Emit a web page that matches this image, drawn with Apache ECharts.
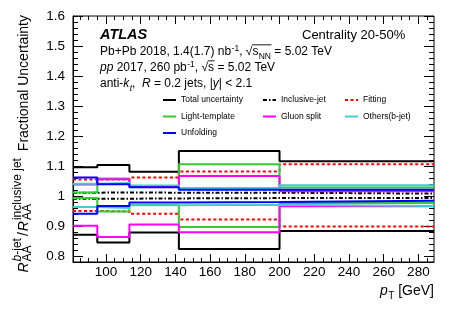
<!DOCTYPE html>
<html><head><meta charset="utf-8">
<script src="https://cdn.jsdelivr.net/npm/echarts@6/dist/echarts.min.js"></script>
<style>html,body{margin:0;padding:0;background:#fff}#c{width:457px;height:311px}</style>
</head><body><div id="c"></div>
<script>
// ---------------- data ----------------
const binEdges = [81, 95, 113.5, 142, 200, 289];
const totalUp = [1.096, 1.103, 1.081, 1.150, 1.116];
const totalDown = [0.871, 0.845, 0.878, 0.823, 0.883];
const inclusiveUp = [1.011, 1.012, 1.011, 1.011, 1.008];
const inclusiveDown = [0.991, 0.991, 0.992, 0.993, 0.993];
const fittingUp = [1.055, 1.055, 1.062, 1.082, 1.106];
const fittingDown = [0.950, 0.949, 0.941, 0.922, 0.898];
const lightUp = [1.012, 1.058, 1.032, 1.106, 1.028];
const lightDown = [0.993, 0.948, 0.970, 0.897, 0.977];
const gluonUp = [1.038, 1.056, 1.033, 1.067, 1.016];
const gluonDown = [0.901, 0.863, 0.905, 0.879, 0.966];
const othersUp = [1.041, 1.043, 1.035, 1.027, 1.036];
const othersDown = [0.963, 0.960, 0.969, 0.971, 0.967];
const unfoldUp = [1.062, 1.039, 1.029, 1.021, 1.021];
const unfoldDown = [0.941, 0.967, 0.978, 0.980, 0.984];

const xTickLabels = [100, 120, 140, 160, 180, 200, 220, 240, 260, 280];
const xMinorTicks = [85, 90, 95, 105, 110, 115, 125, 130, 135, 145, 150, 155, 165, 170, 175,
  185, 190, 195, 205, 210, 215, 225, 230, 235, 245, 250, 255, 265, 270, 275, 285];
const yTickLabels = [0.8, 0.9, 1, 1.1, 1.2, 1.3, 1.4, 1.5, 1.6];
const yMinorTicks = [0.78, 0.82, 0.84, 0.86, 0.88, 0.92, 0.94, 0.96, 0.98, 1.02, 1.04, 1.06, 1.08,
  1.12, 1.14, 1.16, 1.18, 1.22, 1.24, 1.26, 1.28, 1.32, 1.34, 1.36, 1.38, 1.42, 1.44, 1.46, 1.48,
  1.52, 1.54, 1.56, 1.58];

const components = [
  {name: 'Total uncertainty', up: totalUp, down: totalDown, color: '#000000', type: 'solid'},
  {name: 'Inclusive-jet', up: inclusiveUp, down: inclusiveDown, color: '#000000', type: [4, 2, 1.5, 2]},
  {name: 'Fitting', up: fittingUp, down: fittingDown, color: '#ff0000', type: [3, 2.5]},
  {name: 'Light-template', up: lightUp, down: lightDown, color: '#33cc33', type: 'solid'},
  {name: 'Gluon split', up: gluonUp, down: gluonDown, color: '#ff00ff', type: 'solid'},
  {name: 'Others(b-jet)', up: othersUp, down: othersDown, color: '#44cccc', type: 'solid'},
  {name: 'Unfolding', up: unfoldUp, down: unfoldDown, color: '#0000ff', type: 'solid'}
];

// ---------------- helpers ----------------
const FONT = '"Liberation Sans", Arial, Helvetica, sans-serif';
const mc = document.createElement('canvas').getContext('2d');
function fstr(s) { return (s.it ? 'italic ' : '') + (s.b ? 'bold ' : '') + s.size + 'px ' + FONT; }
function tw(s) { mc.font = fstr(s); return mc.measureText(s.t).width; }
function layout(items) {
  let u = 0; const placed = [];
  items.forEach(it => {
    if (it.sub || it.sup) {
      let wmax = 0;
      ['sub', 'sup'].forEach(k => {
        if (!it[k]) return;
        let uu = u + (it.pad || 0);
        it[k].forEach(s => { placed.push({s, u: uu}); uu += tw(s); });
        wmax = Math.max(wmax, uu - u);
      });
      u += wmax + (it.after || 0);
    } else {
      placed.push({s: it, u: u + (it.dx || 0)});
      u += tw(it) + (it.dx || 0);
    }
  });
  return {placed, len: u};
}
const MID = 0.33;
function textEl(s, x, y, rot) {
  return {type: 'text', x, y, rotation: rot || 0, silent: true, z: 10,
    style: {text: s.t, fontSize: s.size, fontFamily: FONT,
      fontStyle: s.it ? 'italic' : 'normal', fontWeight: s.b ? 'bold' : 'normal',
      fill: '#000', textAlign: 'left', align: 'left', textVerticalAlign: 'middle', verticalAlign: 'middle'}};
}
function hRun(items, x0, base, alignRight) {
  const L = layout(items);
  const start = alignRight ? x0 - L.len : x0;
  const els = L.placed.map(p => textEl(p.s, start + p.u, base - (p.s.rise || 0) - MID * p.s.size));
  return {els, placed: L.placed, start, len: L.len};
}
function vRun(items, baseX, yEnd) {
  const L = layout(items);
  const y0 = yEnd + L.len;
  return L.placed.map(p => textEl(p.s, baseX - (p.s.rise || 0) - MID * p.s.size, y0 - p.u, Math.PI / 2));
}
function overline(run, fromSeg, toSeg, base, size) {
  const a = run.placed.find(p => p.s === fromSeg);
  const b = run.placed.find(p => p.s === toSeg);
  const x1 = run.start + a.u - 0.3;
  const x2 = run.start + b.u + tw(b.s) + 0.5;
  const y = base - 0.93 * size;
  return {type: 'line', silent: true, z: 10, shape: {x1, y1: y, x2, y2: y}, style: {stroke: '#000', lineWidth: 0.9}};
}

// ---------------- texts ----------------
const graphics = [];
graphics.push(...hRun([{t: 'ATLAS', size: 14.5, it: true, b: true}], 100, 39.5).els);
graphics.push(...hRun([{t: 'Centrality 20-50%', size: 13}], 302, 40).els);

const sq1 = {t: 's', size: 12};
const nn1 = {t: 'NN', size: 8.5, rise: -3};
const run2 = hRun([
  {t: 'Pb+Pb 2018, 1.4(1.7) nb', size: 12},
  {sup: [{t: '-1', size: 8.5, rise: 5}], pad: 0.5},
  {t: ', ', size: 12}, {t: '√', size: 12}, sq1,
  {sub: [nn1], pad: 0.3},
  {t: ' = 5.02 TeV', size: 12}
], 100, 56);
graphics.push(...run2.els, overline(run2, sq1, nn1, 56, 12));

const sq2 = {t: 's', size: 12};
const run3 = hRun([
  {t: 'pp', size: 12, it: true},
  {t: ' 2017, 260 pb', size: 12},
  {sup: [{t: '-1', size: 8.5, rise: 5}], pad: 0.5},
  {t: ', ', size: 12}, {t: '√', size: 12}, sq2,
  {t: ' = 5.02 TeV', size: 12}
], 100, 72);
graphics.push(...run3.els, overline(run3, sq2, sq2, 72, 12));

graphics.push(...hRun([
  {t: 'anti-', size: 12}, {t: 'k', size: 12, it: true},
  {sub: [{t: 't', size: 8.5, it: true, rise: -3}], pad: 0.3},
  {t: ',  ', size: 12}, {t: 'R', size: 12, it: true},
  {t: ' = 0.2 jets, |', size: 12}, {t: 'y', size: 12, it: true}, {t: '| < 2.1', size: 12}
], 100, 88).els);

// y axis title
graphics.push(...vRun([
  {t: 'R', size: 14, it: true},
  {sub: [{t: 'AA', size: 12, rise: -3.5}], sup: [{t: 'b', size: 12, it: true, rise: 7}, {t: '-jet', size: 12, rise: 7}], pad: 1, after: 1.5},
  {t: '/', size: 14, dx: 0.5},
  {t: 'R', size: 14, it: true, dx: 1},
  {sub: [{t: 'AA', size: 12, rise: -3.5}], sup: [{t: 'inclusive jet', size: 12, rise: 7}], pad: 1, after: 3},
  {t: ' Fractional Uncertainty', size: 14}
], 28.5, 15));

// x axis title
graphics.push(...hRun([
  {t: 'p', size: 14, it: true},
  {sub: [{t: 'T', size: 10, rise: -4}], pad: 0.5},
  {t: ' [GeV]', size: 14}
], 434, 296, true).els);

// ---------------- series ----------------
function stepData(edges, vals) {
  return edges.map((e, i) => [e, vals[Math.min(i, vals.length - 1)]]);
}
const series = [];
components.forEach(c => {
  [c.up, c.down].forEach(vals => {
    series.push({
      name: c.name, type: 'line', step: 'end', symbol: 'none', silent: true,
      xAxisIndex: 0, yAxisIndex: 0,
      lineStyle: {color: c.color, width: 2, type: c.type},
      itemStyle: {color: c.color},
      data: stepData(binEdges, vals)
    });
  });
});

// ---------------- axes ----------------
const XMIN = 81, XMAX = 289, YMIN = 0.78, YMAX = 1.6;
function xAx(position, ticks, len, labels) {
  return {type: 'value', min: XMIN, max: XMAX, position, gridIndex: 0,
    axisLine: {show: labels, onZero: false, lineStyle: {color: '#000', width: 1}},
    axisTick: {show: true, inside: true, length: len, customValues: ticks, lineStyle: {color: '#000', width: 1}},
    axisLabel: labels ? {show: true, customValues: ticks, fontSize: 13.5, fontFamily: FONT, color: '#000', margin: 3} : {show: false},
    splitLine: {show: false}};
}
function yAx(position, ticks, len, labels) {
  return {type: 'value', min: YMIN, max: YMAX, position, gridIndex: 0,
    axisLine: {show: labels, onZero: false, lineStyle: {color: '#000', width: 1}},
    axisTick: {show: true, inside: true, length: len, customValues: ticks, lineStyle: {color: '#000', width: 1}},
    axisLabel: labels ? {show: true, customValues: ticks, fontSize: 13.5, fontFamily: FONT, color: '#000', margin: 8} : {show: false},
    splitLine: {show: false}};
}

const legendBase = {
  orient: 'vertical', itemWidth: 13, itemHeight: 10, itemGap: 6.5, selectedMode: false,
  padding: 0, itemStyle: {opacity: 0},
  textStyle: {fontSize: 8.5, fontFamily: FONT, color: '#000', lineHeight: 10}
};

const option = {
  animation: false,
  backgroundColor: '#ffffff',
  grid: {left: 73, right: 23, top: 16, bottom: 49, show: true, borderColor: '#000', borderWidth: 1, backgroundColor: 'transparent'},
  xAxis: [xAx('bottom', xTickLabels, 8, true), xAx('bottom', xMinorTicks, 4, false),
          xAx('top', xTickLabels, 8, false), xAx('top', xMinorTicks, 4, false)],
  yAxis: [yAx('left', yTickLabels, 10, true), yAx('left', yMinorTicks, 5, false),
          yAx('right', yTickLabels, 10, false), yAx('right', yMinorTicks, 5, false)],
  legend: [
    Object.assign({}, legendBase, {left: 162, top: 95, data: ['Total uncertainty', 'Light-template', 'Unfolding']}),
    Object.assign({}, legendBase, {left: 262, top: 95, data: ['Inclusive-jet', 'Gluon split']}),
    Object.assign({}, legendBase, {left: 344, top: 95, data: ['Fitting', 'Others(b-jet)']})
  ],
  graphic: graphics,
  series
};
const chart = echarts.init(document.getElementById('c'), null, {renderer: 'canvas'});
chart.setOption(option);
</script>
</body></html>
